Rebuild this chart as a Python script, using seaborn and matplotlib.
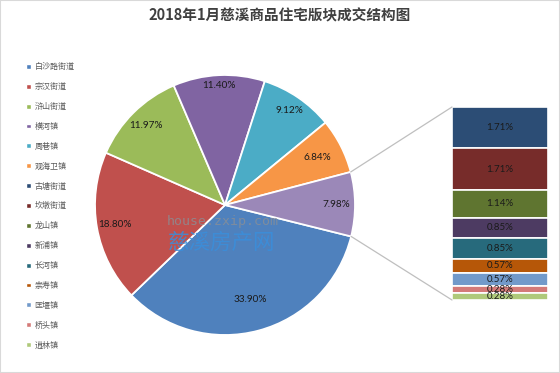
import numpy as np
import matplotlib.pyplot as plt
import seaborn as sns
from matplotlib.patches import ConnectionPatch, Patch, Rectangle

sns.set_theme(style="white")
plt.rcParams['font.family'] = ['Noto Sans CJK SC', 'DejaVu Sans']

# data
pie_names = ['白沙路街道', '宗汉街道', '浒山街道', '横河镇', '周巷镇', '观海卫镇']
pie_values = [33.90, 18.80, 11.97, 11.40, 9.12, 6.84]
other_value = 7.98
bar_names = ['古塘街道', '坎墩街道', '龙山镇', '新浦镇', '长河镇', '崇寿镇', '匡堰镇', '桥头镇', '逍林镇']
bar_values = [1.71, 1.71, 1.14, 0.85, 0.85, 0.57, 0.57, 0.28, 0.28]

pie_colors = ['#4F81BD', '#C0504D', '#9BBB59', '#8064A2', '#4BACC6', '#F79646']
other_color = '#9B88B8'
bar_colors = ['#2C4D75', '#772C2A', '#5F7530', '#4D3B62', '#276A7C', '#B65708',
              '#729ACA', '#D47A78', '#AFC97A']

W, H = 560, 373
fig = plt.figure(figsize=(W / 100, H / 100), dpi=100)
fig.patch.set_facecolor('white')

# pie of the main areas, remaining areas collected in one slice
ax_pie = fig.add_axes([95 / W, 38 / H, 260 / W, 260 / H])
wedges, _ = ax_pie.pie(pie_values + [other_value], colors=pie_colors + [other_color],
                       startangle=-14, counterclock=False,
                       wedgeprops=dict(edgecolor='white', linewidth=1.3))
ax_pie.set_xlim(-1, 1)
ax_pie.set_ylim(-1, 1)
ax_pie.set_aspect('equal')
ax_pie.axis('off')

label_r = [0.75, 0.86, 0.86, 0.92, 0.88, 0.80, 0.86]
for w, v, r in zip(wedges, pie_values + [other_value], label_r):
    mid = np.deg2rad((w.theta1 + w.theta2) / 2)
    ax_pie.text(r * np.cos(mid), r * np.sin(mid), f"{v:.2f}%", ha='center', va='center',
                fontsize=7.2, color='#1a1a1a', family=['Lato', 'DejaVu Sans'])

# stacked bar for the small areas
ax_bar = fig.add_axes([452 / W, 73 / H, 96 / W, 193 / H])
total = sum(bar_values)
bottoms = total - np.cumsum(bar_values)
for v, b, c in zip(bar_values, bottoms, bar_colors):
    ax_bar.bar(0, v, bottom=b, width=1, color=c, edgecolor='white', linewidth=1.2)
    ax_bar.text(0, b + v / 2, f"{v:.2f}%", ha='center', va='center', fontsize=7,
                color='#1a1a1a', family=['Lato', 'DejaVu Sans'])
ax_bar.set_xlim(-0.5, 0.5)
ax_bar.set_ylim(0, total)
ax_bar.axis('off')

# connector lines from the "other" slice to the bar
ow = wedges[-1]
for ang, yb in [(ow.theta2, 1), (ow.theta1, 0)]:
    a = np.deg2rad(ang)
    con = ConnectionPatch(xyA=(np.cos(a), np.sin(a)), coordsA=ax_pie.transData,
                          xyB=(0, yb), coordsB=ax_bar.transAxes,
                          color='#BFBFBF', linewidth=0.9)
    fig.add_artist(con)

# legend
handles = [Patch(facecolor=c) for c in pie_colors + bar_colors]
fig.legend(handles, pie_names + bar_names, loc='upper left',
           bbox_to_anchor=(23 / W, 1 - 59 / H), frameon=False, fontsize=5.8,
           labelcolor='#595959', handlelength=0.55, handleheight=0.55,
           handletextpad=0.5, labelspacing=1.35, borderaxespad=0)

# title
fig.text(0.5, 1 - 15 / H, '2018年1月慈溪商品住宅版块成交结构图', ha='center', va='center',
         fontsize=10.5, fontweight='bold', color='#404040')

# watermark
fig.text(223 / W, 1 - 222 / H, 'house.zxip.com', ha='center', va='center',
         fontsize=9.5, color='#8A8F96', alpha=0.8, family='DejaVu Sans Mono')
fig.text(222 / W, 1 - 243 / H, '慈溪房产网', ha='center', va='center',
         fontsize=15.5, color='#3A8EDB', alpha=0.85)

fig.patches.append(Rectangle((0, 0), 1, 1, transform=fig.transFigure, fill=False,
                             edgecolor='#D9D9D9', linewidth=1.5))

fig.savefig('out.png', dpi=100, facecolor='white')
